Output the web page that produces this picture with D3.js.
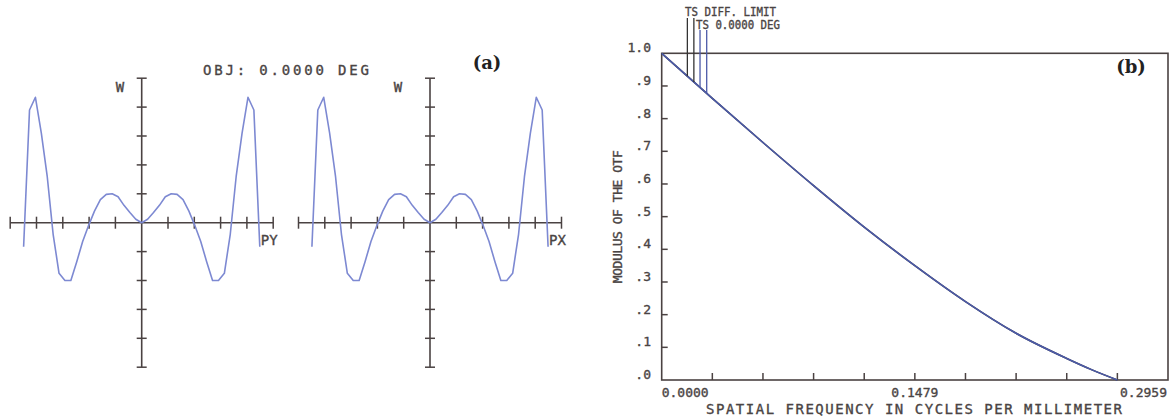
<!DOCTYPE html>
<html>
<head>
<meta charset="utf-8">
<script src="https://cdn.jsdelivr.net/npm/d3@7"></script>
<style>
  body { margin: 0; background: #fff; }
  svg { display: block; }
  text { font-family: "DejaVu Sans Mono", monospace; fill: #4a4444; stroke: #4a4444; stroke-width: 0.35px; }
  .tag { font-family: "DejaVu Serif", serif; font-weight: bold; fill: #222; stroke: none; }
</style>
</head>
<body>
<div id="chart"></div>
<script>
// ---- (a) ray fan data: pupil coordinate vs W (waves)
const fanPupil = [-1.00, -0.95, -0.90, -0.85, -0.80, -0.75, -0.70, -0.65, -0.60, -0.55,
                  -0.50, -0.45, -0.40, -0.35, -0.30, -0.25, -0.20, -0.15, -0.10, -0.05,
                   0.00,  0.05,  0.10,  0.15,  0.20,  0.25,  0.30,  0.35,  0.40,  0.45,
                   0.50,  0.55,  0.60,  0.65,  0.70,  0.75,  0.80,  0.85,  0.90,  0.95, 1.00];
const fanPY = [-0.83, 3.90, 4.34, 3.10, 1.60, -0.40, -1.75, -2.00, -2.00, -1.35,
               -0.65, -0.10, 0.40, 0.80, 0.98, 1.00, 0.90, 0.60, 0.35, 0.12,
                0.00, 0.12, 0.35, 0.60, 0.90, 1.00, 0.98, 0.80, 0.40, -0.10,
               -0.65, -1.35, -2.00, -2.00, -1.75, -0.40, 1.60, 3.10, 4.34, 3.90, -0.83];
const fanPX = [-0.83, 3.90, 4.34, 3.10, 1.60, -0.40, -1.75, -2.00, -2.00, -1.35,
               -0.65, -0.10, 0.40, 0.80, 0.98, 1.00, 0.90, 0.60, 0.35, 0.12,
                0.00, 0.12, 0.35, 0.60, 0.90, 1.00, 0.98, 0.80, 0.40, -0.10,
               -0.65, -1.35, -2.00, -2.00, -1.75, -0.40, 1.60, 3.10, 4.34, 3.90, -0.83];
const fanTicks = [-5, -4, -3, -2, -1, 1, 2, 3, 4, 5];
const objLabel = "OBJ: 0.0000 DEG";

// ---- (b) MTF data
const mtfFreq = [0, 0.02959, 0.05918, 0.08877, 0.11836, 0.14795, 0.17754, 0.20713, 0.23672, 0.25152, 0.26631];
const mtfDiff = [1.0, 0.862, 0.727, 0.595, 0.468, 0.350, 0.240, 0.143, 0.066, 0.031, 0.0];
const mtfTS   = [1.0, 0.862, 0.727, 0.595, 0.468, 0.350, 0.240, 0.143, 0.066, 0.031, 0.0];
const mtfYTicks = [0, 0.1, 0.2, 0.3, 0.4, 0.5, 0.6, 0.7, 0.8, 0.9, 1.0];
const mtfYLabels = [".0", ".1", ".2", ".3", ".4", ".5", ".6", ".7", ".8", ".9", "1.0"];
const mtfXLabels = ["0.0000", "0.1479", "0.2959"];
const mtfXMax = 0.2959;
const legendNames = ["TS DIFF. LIMIT", "TS 0.0000 DEG"];
const legendFreqs = [[0.0150, 0.0188], [0.0224, 0.0263]];

const W = 1170, H = 417;
const axisColor = "#4a4242";
const fanColor = "#7d89d2";
const mtfColor = "#4c5aa8";

const svg = d3.select("#chart").append("svg")
  .attr("width", W).attr("height", H);
svg.append("rect").attr("width", W).attr("height", H).attr("fill", "#fff");

// ---------- panel (a)
function drawFan(cx, values, xName, wx) {
  const cy = 222.7;
  const ax = d3.scaleLinear().domain([-5, 5]).range([cx - 131.5, cx + 131.5]);
  const aw = d3.scaleLinear().domain([-5, 5]).range([cy + 144.5, cy - 144.5]);
  const px = d3.scaleLinear().domain([-1, 1]).range([ax(-4.49), ax(4.49)]);
  const g = svg.append("g");

  g.append("line").attr("x1", ax(-5)).attr("x2", ax(5)).attr("y1", aw(0)).attr("y2", aw(0))
    .attr("stroke", axisColor).attr("stroke-width", 1.6);
  g.append("line").attr("x1", ax(0)).attr("x2", ax(0)).attr("y1", aw(-5)).attr("y2", aw(5))
    .attr("stroke", axisColor).attr("stroke-width", 1.6);

  g.selectAll(".tx").data(fanTicks).join("line")
    .attr("x1", d => ax(d)).attr("x2", d => ax(d))
    .attr("y1", aw(0) - 6).attr("y2", aw(0) + 6)
    .attr("stroke", axisColor).attr("stroke-width", 1.5);
  g.selectAll(".ty").data(fanTicks).join("line")
    .attr("x1", ax(0) - 5).attr("x2", ax(0) + 5)
    .attr("y1", d => aw(d)).attr("y2", d => aw(d))
    .attr("stroke", axisColor).attr("stroke-width", 1.5);

  const line = d3.line().x((d, i) => px(fanPupil[i])).y(d => aw(d));
  g.append("path").attr("d", line(values))
    .attr("fill", "none").attr("stroke", fanColor).attr("stroke-width", 1.6)
    .attr("stroke-linejoin", "round");

  g.append("text").attr("x", wx).attr("y", 91.5).attr("text-anchor", "middle")
    .attr("font-size", 14).text("W");
  g.append("text").attr("x", ax(5) - 4).attr("y", 245).attr("text-anchor", "middle")
    .attr("font-size", 14).text(xName);
}

drawFan(141.7, fanPY, "PY", 120);
drawFan(430, fanPX, "PX", 398);

svg.append("text").attr("x", 203).attr("y", 74.5)
  .attr("font-size", 14).attr("textLength", 166).attr("lengthAdjust", "spacing")
  .text(objLabel);
svg.append("text").attr("class", "tag").attr("x", 487).attr("y", 69)
  .attr("text-anchor", "middle").attr("font-size", 18).text("(a)");

// ---------- panel (b)
const x = d3.scaleLinear().domain([0, mtfXMax]).range([661.7, 1168]);
const y = d3.scaleLinear().domain([0, 1]).range([380, 53.3]);
const gb = svg.append("g");

gb.append("rect").attr("x", x(0)).attr("y", y(1))
  .attr("width", x(mtfXMax) - x(0)).attr("height", y(0) - y(1))
  .attr("fill", "none").attr("stroke", axisColor).attr("stroke-width", 1.6);

gb.selectAll(".yt").data(mtfYTicks.slice(1, -1)).join("line")
  .attr("x1", x(0)).attr("x2", x(0) + 6)
  .attr("y1", d => y(d)).attr("y2", d => y(d))
  .attr("stroke", axisColor).attr("stroke-width", 1.5);
gb.selectAll(".yl").data(mtfYTicks).join("text")
  .attr("x", 651).attr("y", d => y(d) - 1).attr("text-anchor", "end")
  .attr("font-size", 13)
  .text((d, i) => mtfYLabels[i]);

const xTicks = d3.range(1, 10).map(i => mtfXMax * i / 10);
gb.selectAll(".xt").data(xTicks).join("line")
  .attr("x1", d => x(d)).attr("x2", d => x(d))
  .attr("y1", y(0)).attr("y2", y(0) - 7)
  .attr("stroke", axisColor).attr("stroke-width", 1.5);
const xLabelPos = [0, mtfXMax / 2, mtfXMax];
const xAnchor = ["start", "middle", "end"];
gb.selectAll(".xl").data(mtfXLabels).join("text")
  .attr("x", (d, i) => x(xLabelPos[i]) + (i === 2 ? -1 : 0))
  .attr("y", 397).attr("text-anchor", (d, i) => xAnchor[i])
  .attr("font-size", 13).text(d => d);

gb.append("text").attr("x", 914).attr("y", 414).attr("text-anchor", "middle")
  .attr("font-size", 14).attr("textLength", 416).attr("lengthAdjust", "spacing")
  .text("SPATIAL FREQUENCY IN CYCLES PER MILLIMETER");
gb.append("text").attr("transform", "translate(622,216.7) rotate(-90)")
  .attr("text-anchor", "middle").attr("font-size", 13)
  .attr("textLength", 133).attr("lengthAdjust", "spacing")
  .text("MODULUS OF THE OTF");

const mtfLine = d3.line().x((d, i) => x(mtfFreq[i])).y(d => y(d)).curve(d3.curveMonotoneX);
gb.append("path").attr("d", mtfLine(mtfDiff))
  .attr("fill", "none").attr("stroke", "#333").attr("stroke-width", 1.6);
gb.append("path").attr("d", mtfLine(mtfTS))
  .attr("fill", "none").attr("stroke", mtfColor).attr("stroke-width", 1.6);

// legend markers run from the label down to the curve
const curveAt = d3.scaleLinear().domain(mtfFreq).range(mtfTS);
const legendColors = ["#333", mtfColor];
const legendTop = [18, 30];
const legendTextX = [685, 696];
const legendTextY = [16, 29];
const legendLen = [91, 84];
legendNames.forEach((name, k) => {
  gb.append("text").attr("x", legendTextX[k]).attr("y", legendTextY[k])
    .attr("font-size", 12).attr("textLength", legendLen[k]).attr("lengthAdjust", "spacingAndGlyphs")
    .attr("fill", "#3a3535").attr("stroke", "#3a3535").text(name);
  gb.selectAll(".lg" + k).data(legendFreqs[k]).join("line")
    .attr("x1", d => x(d)).attr("x2", d => x(d))
    .attr("y1", legendTop[k]).attr("y2", d => y(curveAt(d)))
    .attr("stroke", legendColors[k]).attr("stroke-width", 1.3);
});

svg.append("text").attr("class", "tag").attr("x", 1131).attr("y", 73)
  .attr("text-anchor", "middle").attr("font-size", 18).text("(b)");
</script>
</body>
</html>
